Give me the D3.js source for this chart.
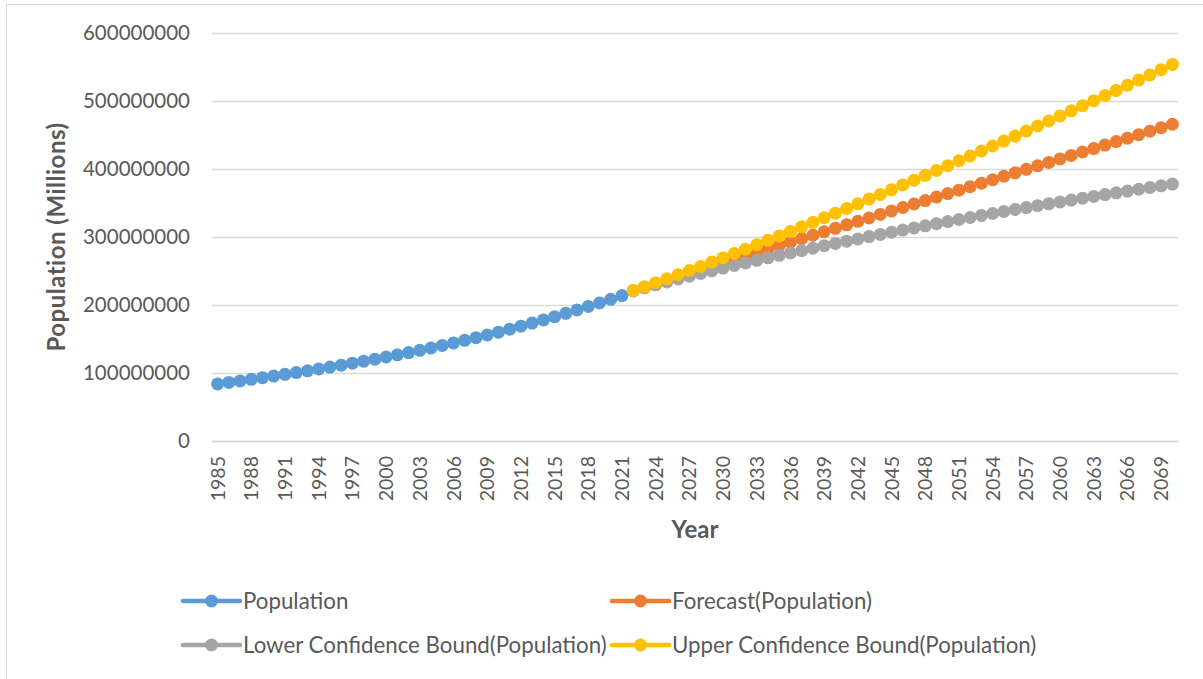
<!DOCTYPE html>
<html>
<head>
<meta charset="utf-8">
<script src="https://cdn.jsdelivr.net/npm/d3@7"></script>
<style>
  html, body { margin: 0; padding: 0; background: #ffffff; }
  svg { display: block; font-family: Lato, "Open Sans", sans-serif; }
</style>
</head>
<body>
<svg id="chart" width="1203" height="679"></svg>
<script>
// Years on the category axis (one slot per year)
const years = [
  1985, 1986, 1987, 1988, 1989, 1990, 1991, 1992, 1993, 1994,
  1995, 1996, 1997, 1998, 1999, 2000, 2001, 2002, 2003, 2004,
  2005, 2006, 2007, 2008, 2009, 2010, 2011, 2012, 2013, 2014,
  2015, 2016, 2017, 2018, 2019, 2020, 2021, 2022, 2023, 2024,
  2025, 2026, 2027, 2028, 2029, 2030, 2031, 2032, 2033, 2034,
  2035, 2036, 2037, 2038, 2039, 2040, 2041, 2042, 2043, 2044,
  2045, 2046, 2047, 2048, 2049, 2050, 2051, 2052, 2053, 2054,
  2055, 2056, 2057, 2058, 2059, 2060, 2061, 2062, 2063, 2064,
  2065, 2066, 2067, 2068, 2069, 2070
];

// Years that carry a label on the horizontal axis
const yearLabels = [
  1985, 1988, 1991, 1994, 1997, 2000, 2003, 2006, 2009, 2012, 2015,
  2018, 2021, 2024, 2027, 2030, 2033, 2036, 2039, 2042, 2045, 2048,
  2051, 2054, 2057, 2060, 2063, 2066, 2069
];

// Vertical axis ticks
const popTicks = [0, 100000000, 200000000, 300000000, 400000000, 500000000, 600000000];

// Observed population, 1985-2021 (millions)
const populationYears = years.slice(0, 37);
const population = [
  84.0, 86.2, 88.4, 90.7, 93.1, 95.5, 98.0, 100.6, 103.2, 105.9,
  108.7, 111.5, 114.4, 117.4, 120.4, 123.5, 126.7, 130.0, 133.4, 136.9,
  140.5, 144.2, 148.0, 151.9, 155.9, 160.1, 164.4, 168.8, 173.4, 178.1,
  182.9, 187.8, 192.8, 197.9, 203.1, 208.4, 213.8
];

// Forecast horizon, 2022-2070 (millions)
const forecastYears = years.slice(37);
const forecast = [
  221.0, 226.1, 231.2, 236.3, 241.4, 246.5, 251.6, 256.7, 261.8, 266.9,
  272.0, 277.1, 282.2, 287.3, 292.4, 297.5, 302.6, 307.7, 312.8, 317.9,
  323.0, 328.1, 333.2, 338.3, 343.4, 348.5, 353.6, 358.7, 363.8, 368.9,
  374.0, 379.1, 384.2, 389.3, 394.4, 399.5, 404.6, 409.7, 414.8, 419.9,
  425.0, 430.1, 435.2, 440.3, 445.4, 450.5, 455.6, 460.7, 465.8
];
const lowerBound = [
  220.7, 225.3, 229.7, 234.0, 238.2, 242.3, 246.4, 250.3, 254.3, 258.1,
  261.9, 265.7, 269.4, 273.0, 276.6, 280.1, 283.6, 287.1, 290.5, 293.9,
  297.2, 300.6, 303.8, 307.0, 310.2, 313.4, 316.5, 319.6, 322.7, 325.7,
  328.7, 331.7, 334.6, 337.5, 340.4, 343.2, 346.0, 348.8, 351.6, 354.3,
  357.0, 359.7, 362.4, 365.0, 367.6, 370.2, 372.8, 375.3, 377.8
];
const upperBound = [
  221.3, 226.9, 232.7, 238.6, 244.6, 250.7, 256.8, 263.1, 269.3, 275.7,
  282.1, 288.5, 295.1, 301.6, 308.2, 314.9, 321.6, 328.3, 335.1, 341.9,
  348.8, 355.7, 362.6, 369.6, 376.6, 383.6, 390.7, 397.8, 404.9, 412.1,
  419.3, 426.5, 433.8, 441.1, 448.4, 455.8, 463.2, 470.6, 478.0, 485.5,
  493.0, 500.5, 508.0, 515.6, 523.2, 530.8, 538.4, 546.1, 553.8
];

const seriesNames = [
  "Population",
  "Forecast(Population)",
  "Lower Confidence Bound(Population)",
  "Upper Confidence Bound(Population)"
];
const seriesColors = ["#5b9bd5", "#ed7d31", "#a5a5a5", "#ffc000"];

// ---------------------------------------------------------------
const MILLION = 1e6;
const series = [
  { name: seriesNames[0], color: seriesColors[0], years: populationYears, values: population },
  { name: seriesNames[1], color: seriesColors[1], years: forecastYears, values: forecast },
  { name: seriesNames[2], color: seriesColors[2], years: forecastYears, values: lowerBound },
  { name: seriesNames[3], color: seriesColors[3], years: forecastYears, values: upperBound }
].map(s => ({ ...s, points: s.years.map((yr, i) => ({ year: yr, value: s.values[i] * MILLION })) }));

const svg = d3.select("#chart");
const W = 1203, H = 679;
const plot = { left: 212, right: 1178, top: 33, bottom: 441 };
const textColor = "#595959";
const gridColor = "#d9d9d9";

svg.append("rect").attr("width", W).attr("height", H).attr("fill", "#ffffff");
// chart-area frame
svg.append("rect")
  .attr("x", 6.5).attr("y", 4.5).attr("width", 1210).attr("height", 700)
  .attr("fill", "none").attr("stroke", gridColor).attr("stroke-width", 1);

const x = d3.scaleBand().domain(years).range([plot.left, plot.right]).paddingInner(0).paddingOuter(0);
const cx = yr => x(yr) + x.bandwidth() / 2;
const y = d3.scaleLinear().domain([0, 600000000]).range([plot.bottom, plot.top]);

// horizontal gridlines
svg.append("g")
  .attr("transform", `translate(${plot.left},0)`)
  .call(d3.axisLeft(y).tickValues(popTicks).tickSize(-(plot.right - plot.left)).tickFormat(""))
  .call(g => g.select(".domain").remove())
  .call(g => g.selectAll("line").attr("stroke", gridColor).attr("stroke-width", 1.4));

// value axis labels
svg.append("g")
  .attr("transform", `translate(${plot.left},0)`)
  .call(d3.axisLeft(y).tickValues(popTicks).tickSize(0).tickPadding(22).tickFormat(d3.format("d")))
  .call(g => g.select(".domain").remove())
  .call(g => g.selectAll("text")
    .attr("fill", textColor)
    .style("font-size", "20.5px")
    .style("font-family", "Lato, sans-serif"));

// category axis
svg.append("g")
  .attr("transform", `translate(0,${plot.bottom})`)
  .call(d3.axisBottom(x).tickValues(yearLabels).tickSize(0))
  .call(g => g.select(".domain")
    .attr("stroke", gridColor).attr("stroke-width", 1.4))
  .call(g => g.selectAll("text")
    .attr("fill", textColor)
    .style("font-size", "19.5px")
    .style("font-family", "Lato, sans-serif")
    .attr("text-anchor", "end")
    .attr("transform", "rotate(-90)")
    .attr("x", -15)
    .attr("y", 0)
    .attr("dy", "0.36em"));

// axis titles
svg.append("text")
  .attr("transform", `translate(65,${(122 + 352) / 2}) rotate(-90)`)
  .attr("text-anchor", "middle")
  .attr("fill", textColor)
  .style("font-size", "24px")
  .style("font-weight", "bold")
  .style("letter-spacing", "0.5px")
  .text("Population (Millions)");

svg.append("text")
  .attr("x", 695).attr("y", 538)
  .attr("text-anchor", "middle")
  .attr("fill", textColor)
  .style("font-size", "24px")
  .style("font-weight", "bold")
  .text("Year");

// series: line + round markers
const line = d3.line().x(d => cx(d.year)).y(d => y(d.value));
const R = 6.5;
series.forEach(s => {
  const g = svg.append("g");
  g.append("path")
    .datum(s.points)
    .attr("d", line)
    .attr("fill", "none")
    .attr("stroke", s.color)
    .attr("stroke-width", 4);
  g.selectAll("circle")
    .data(s.points)
    .join("circle")
    .attr("cx", d => cx(d.year))
    .attr("cy", d => y(d.value))
    .attr("r", R)
    .attr("fill", s.color);
});

// legend (two rows, two columns)
const legendPos = [
  { x: 183, y: 601 }, { x: 612, y: 601 },
  { x: 183, y: 645 }, { x: 612, y: 645 }
];
series.forEach((s, i) => {
  const p = legendPos[i];
  const g = svg.append("g").attr("transform", `translate(${p.x},${p.y})`);
  g.append("line").attr("x1", 0).attr("x2", 57).attr("y1", 0).attr("y2", 0)
    .attr("stroke", s.color).attr("stroke-width", 4.5).attr("stroke-linecap", "round");
  g.append("circle").attr("cx", 28.5).attr("cy", 0).attr("r", R).attr("fill", s.color);
  g.append("text").attr("x", 60).attr("y", 0).attr("dy", "0.35em")
    .attr("fill", textColor)
    .style("font-size", "22.3px")
    .text(s.name);
});
</script>
</body>
</html>
